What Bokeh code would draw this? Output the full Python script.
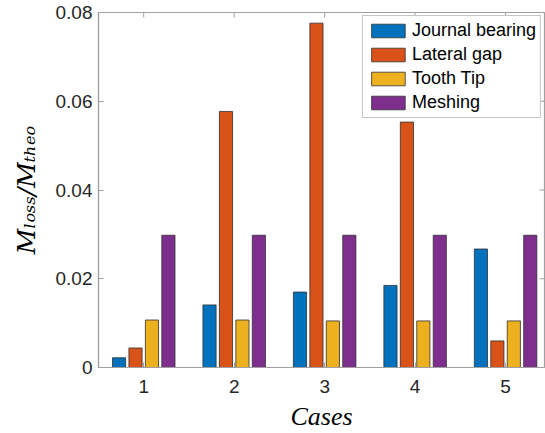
from bokeh.plotting import figure
from bokeh.models import ColumnDataSource, Range1d, FixedTicker, Legend, LegendItem
from bokeh.transform import dodge
from bokeh.embed import file_html
from bokeh.resources import INLINE

# ---- data ----
cases = [1, 2, 3, 4, 5]
journal_bearing = [0.0022, 0.0141, 0.0170, 0.0185, 0.0267]
lateral_gap = [0.0044, 0.0577, 0.0776, 0.0553, 0.0060]
tooth_tip = [0.0107, 0.0107, 0.0105, 0.0105, 0.0105]
meshing = [0.0298, 0.0298, 0.0298, 0.0298, 0.0298]
series_names = ["Journal bearing", "Lateral gap", "Tooth Tip", "Meshing"]
series_cols = ["jb", "lg", "tt", "me"]
colors = ["#0072BD", "#D95319", "#EDB120", "#7E2F8E"]
y_ticks = [0, 0.02, 0.04, 0.06, 0.08]
y_tick_labels = {0: "0", 0.02: "0.02", 0.04: "0.04", 0.06: "0.06", 0.08: "0.08"}
x_title = "Cases"
y_title = "M\u2097\u2092\u209b\u209b/M\u209c\u2095\u2091\u2092"   # M_loss / M_theo

source = ColumnDataSource(dict(cases=cases, jb=journal_bearing, lg=lateral_gap,
                               tt=tooth_tip, me=meshing))

# ---- layout constants ----
W, H = 545, 433
LEFT, RIGHT, TOP, BOTTOM = 98, 1, 12, 65
X0, X1 = 0.5, 5.43
Y0, Y1 = 0.0, 0.08
FW = W - LEFT - RIGHT
FH = H - TOP - BOTTOM

AX = "#a0a0a0"
TXT = "#262626"

p = figure(width=W, height=H, output_backend="svg", toolbar_location=None,
           x_range=Range1d(X0, X1), y_range=Range1d(Y0, Y1),
           min_border_left=LEFT, min_border_right=RIGHT,
           min_border_top=TOP, min_border_bottom=BOTTOM)
p.background_fill_color = "white"
p.border_fill_color = "white"
p.grid.visible = False
p.outline_line_color = AX
p.outline_line_width = 1.2

# grouped bars (MATLAB-style grouping)
gw = min(0.8, 4 / (4 + 1.5))
bw = gw / 4 * 0.8
renderers = []
for i, (col, c) in enumerate(zip(series_cols, colors)):
    off = (2 * (i + 1) - 1) * gw / 8 - gw / 2
    r = p.vbar(x=dodge("cases", off, range=p.x_range), top=col, width=bw,
               bottom=0, source=source, fill_color=c, line_color="#303030",
               line_width=0.8)
    renderers.append(r)

# mirrored inward ticks on the top and right edges (box on)
tick_len_y = 5 / FH * (Y1 - Y0)
tick_len_x = 5 / FW * (X1 - X0)
p.segment(x0=cases, y0=[Y1] * len(cases), x1=cases, y1=[Y1 - tick_len_y] * len(cases),
          line_color=AX, line_width=1)
p.segment(x0=[X1] * len(y_ticks), y0=y_ticks, x1=[X1 - tick_len_x] * len(y_ticks), y1=y_ticks,
          line_color=AX, line_width=1)

# axes
xa = p.xaxis[0]
xa.ticker = FixedTicker(ticks=cases)
ya = p.yaxis[0]
ya.ticker = FixedTicker(ticks=y_ticks)
ya.major_label_overrides = y_tick_labels
for ax in (xa, ya):
    ax.axis_line_color = AX
    ax.axis_line_width = 1.2
    ax.major_tick_line_color = AX
    ax.major_tick_in = 5
    ax.major_tick_out = 0
    ax.minor_tick_line_color = None
    ax.major_label_text_font = "Liberation Sans"
    ax.major_label_text_font_size = "19px"
    ax.major_label_text_color = TXT
xa.major_label_standoff = 12
ya.major_label_standoff = 6

xa.axis_label = x_title
xa.axis_label_text_font = "Liberation Serif"
xa.axis_label_text_font_style = "italic"
xa.axis_label_text_font_size = "26px"
xa.axis_label_text_color = "#000000"
xa.axis_label_standoff = 6

ya.axis_label = y_title
ya.axis_label_text_font = "DejaVu Serif"
ya.axis_label_text_font_style = "italic"
ya.axis_label_text_font_size = "25px"
ya.axis_label_text_color = "#000000"
ya.axis_label_standoff = 12

# legend
legend = Legend(items=[LegendItem(label=n, renderers=[r]) for n, r in zip(series_names, renderers)],
                location="top_right")
legend.margin = 3
legend.padding = 4
legend.spacing = 3
legend.glyph_width = 42
legend.glyph_height = 17
legend.label_height = 17
legend.label_standoff = 3
legend.label_text_font = "Liberation Sans"
legend.label_text_font_size = "18px"
legend.label_text_color = "#000000"
legend.border_line_color = "#8a8a8a"
legend.border_line_width = 1
legend.background_fill_alpha = 1
p.add_layout(legend)

open("out.html", "w").write(file_html(p, INLINE))
